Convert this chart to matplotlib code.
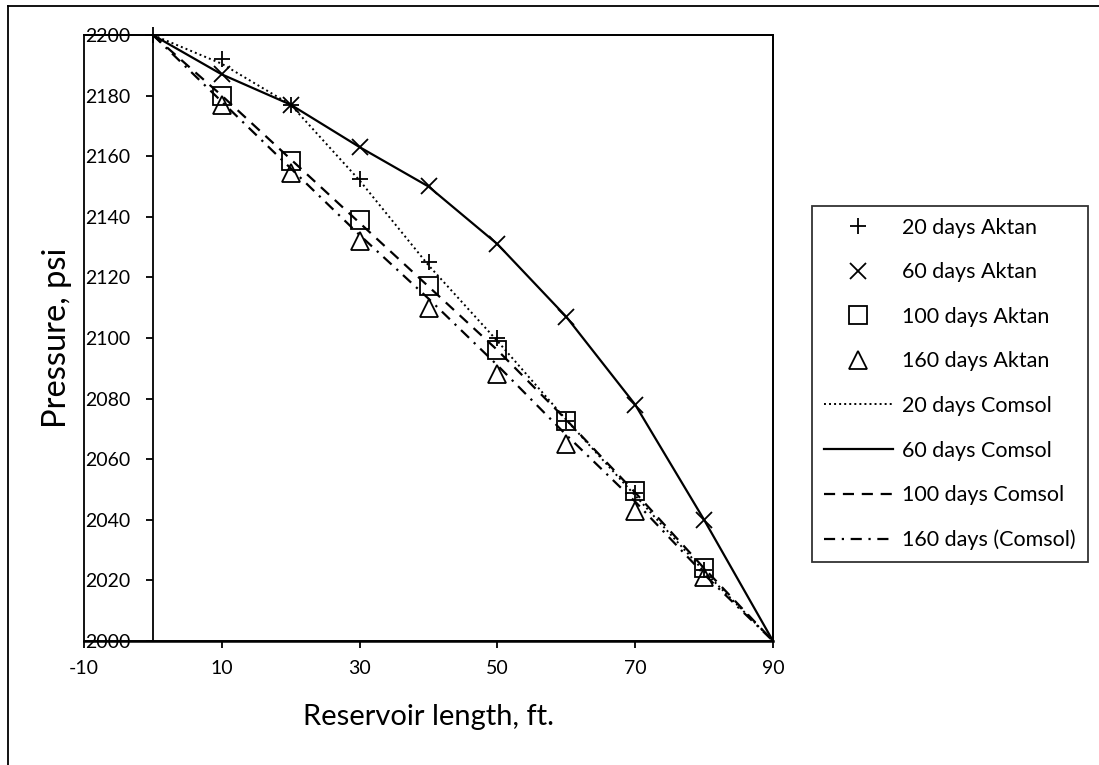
import matplotlib
matplotlib.use("Agg")
import matplotlib.pyplot as plt
from matplotlib.lines import Line2D

plt.rcParams['font.family'] = ['Lato', 'DejaVu Sans']
plt.rcParams['axes.unicode_minus'] = False

# Reservoir length, ft.
x = [0, 10, 20, 30, 40, 50, 60, 70, 80, 90]
x_aktan = [10, 20, 30, 40, 50, 60, 70, 80]
x_aktan20 = [0, 10, 20, 30, 40, 50, 60, 70, 80]

# Aktan (markers)
p20_aktan = [2200, 2192, 2177, 2152.5, 2125, 2100, 2072.5, 2049, 2023.5]
p60_aktan = [2187, 2177, 2163, 2150, 2131, 2107, 2078, 2040]
p100_aktan = [2180, 2158.5, 2139, 2117, 2096, 2072.5, 2049.5, 2024]
p160_aktan = [2177, 2154.5, 2132, 2110, 2088, 2065, 2043, 2021]

# Comsol (lines)
p20_comsol = [2200, 2190.5, 2177, 2152, 2124, 2099, 2073, 2048, 2023, 2000]
p60_comsol = [2200, 2187, 2177, 2163, 2150, 2131, 2107, 2078, 2040, 2000]
p100_comsol = [2200, 2180, 2159, 2138, 2117, 2096, 2073, 2049, 2024, 2000]
p160_comsol = [2200, 2178, 2156, 2134, 2113, 2091, 2068, 2046, 2022, 2000]

xticks = [-10, 10, 30, 50, 70, 90]
yticks = list(range(2000, 2201, 20))

W, H = 1099, 765
fig = plt.figure(figsize=(W / 100, H / 100), dpi=100)

# plot area in pixels: left 84, right 773, top 35, bottom 641
ax = fig.add_axes([84 / W, 1 - 641 / H, (773 - 84) / W, (641 - 35) / H])

# Comsol lines
ax.plot(x, p20_comsol, color='black', linestyle=(0, (1, 1.6)), linewidth=1.4, label='20 days Comsol')
ax.plot(x, p60_comsol, color='black', linestyle='-', linewidth=1.6, label='60 days Comsol')
ax.plot(x, p100_comsol, color='black', linestyle=(0, (5, 3.5)), linewidth=1.6, label='100 days Comsol')
ax.plot(x, p160_comsol, color='black', linestyle=(0, (5, 3, 1, 3)), linewidth=1.6, label='160 days (Comsol)')

# Aktan markers
mk = dict(linestyle='none', color='black', markerfacecolor='none', clip_on=False, zorder=3)
ax.plot(x_aktan20, p20_aktan, marker='+', markersize=11, markeredgewidth=1.3, label='20 days Aktan', **mk)
ax.plot(x_aktan, p60_aktan, marker='x', markersize=12, markeredgewidth=1.3, label='60 days Aktan', **mk)
ax.plot(x_aktan, p100_aktan, marker='s', markersize=13, markeredgewidth=1.3, label='100 days Aktan', **mk)
ax.plot(x_aktan, p160_aktan, marker='^', markersize=13, markeredgewidth=1.3, label='160 days Aktan', **mk)

ax.set_xlim(-10, 90)
ax.set_ylim(2000, 2200)
ax.set_xticks(xticks)
ax.set_yticks(yticks)

# y axis crosses at x = 0, frame drawn around the plot area
for s in ['top', 'right']:
    ax.spines[s].set_linewidth(1.3)
ax.spines['left'].set_position(('data', 0))
ax.spines['left'].set_linewidth(1.3)
ax.spines['bottom'].set_linewidth(1.8)
ax.add_patch(plt.Rectangle((0, 0), 1, 1, transform=ax.transAxes, fill=False,
                           edgecolor='black', linewidth=1.3, clip_on=False, zorder=0))

ax.tick_params(axis='both', direction='out', length=5, width=1.3, labelsize=14, colors='black')
ax.tick_params(axis='y', pad=11)
ax.tick_params(axis='x', pad=9)

ax.set_xlabel('Reservoir length, ft.', fontsize=21, labelpad=19)
ax.set_ylabel('Pressure, psi', fontsize=23.5)
ax.yaxis.set_label_coords(-(84 - 72) / (773 - 84), 0.5)

# legend in the order of the reference
handles, labels = ax.get_legend_handles_labels()
order = [4, 5, 6, 7, 0, 1, 2, 3]
leg = fig.legend([handles[i] for i in order], [labels[i] for i in order],
                 loc='upper left', bbox_to_anchor=(812 / W, 1 - 206 / H),
                 fontsize=15.5, frameon=True, fancybox=False, edgecolor='black',
                 handlelength=3.2, handletextpad=0.45, labelspacing=1.14,
                 borderpad=0.55, borderaxespad=0)
leg.get_frame().set_linewidth(1.3)

# outer chart-area border (left and top edges visible)
fig.add_artist(Line2D([8 / W, 8 / W], [0, 1 - 6 / H], color='black', linewidth=1.3))
fig.add_artist(Line2D([8 / W, 1], [1 - 6 / H, 1 - 6 / H], color='black', linewidth=1.3))

fig.savefig('out.png', dpi=100)
